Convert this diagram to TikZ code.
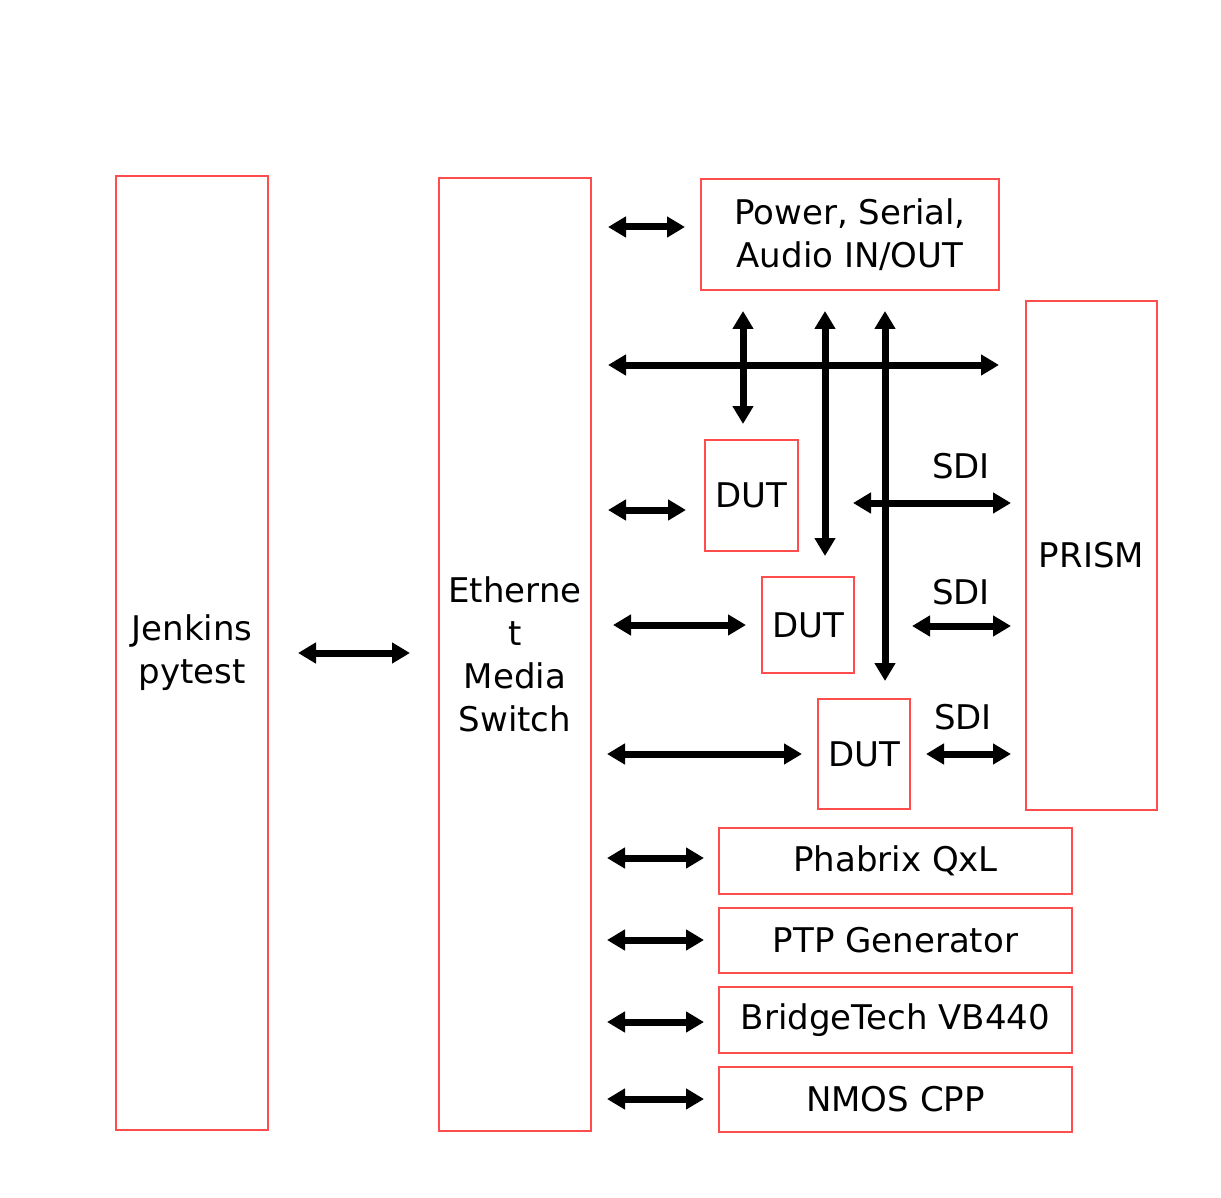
\documentclass[tikz,border=0pt]{standalone}
\usepackage{fontspec}
\setmainfont{DejaVu Sans}
\usetikzlibrary{arrows.meta}
\begin{document}
\begin{tikzpicture}[x=1pt,y=-1pt,
 box/.style={draw=red!70!white,line width=2pt,inner sep=0pt,align=center,font=\fontsize{34}{43}\selectfont},
 lab/.style={font=\fontsize{34}{43}\selectfont},
 arr/.style={line width=7pt,{Triangle[length=18pt,width=20pt]}-{Triangle[length=18pt,width=20pt]}}]
\useasboundingbox (0,0) rectangle (1221,1198);
\newcommand{\bx}[6]{\node[box,minimum width=#4-#2,minimum height=#5-#3] (#1) at ({(#2+#4)/2},{(#3+#5)/2}) {#6};}
\bx{jen}{116}{176}{268}{1130}{Jenkins\\pytest}
\bx{eth}{439}{178}{591}{1131}{Etherne\\t\\Media\\Switch}
\bx{pow}{701}{179}{999}{290}{Power, Serial,\\Audio IN/OUT}
\bx{prism}{1026}{301}{1157}{810}{PRISM}
\bx{dut1}{705}{440}{798}{551}{DUT}
\bx{dut2}{762}{577}{854}{673}{DUT}
\bx{dut3}{818}{699}{910}{809}{DUT}
\bx{pha}{719}{828}{1072}{894}{Phabrix QxL}
\bx{ptp}{719}{908}{1072}{973}{PTP Generator}
\bx{bri}{719}{987}{1072}{1053}{BridgeTech VB440}
\bx{nmos}{719}{1067}{1072}{1132}{NMOS CPP}
\draw[arr] (298,653) -- (410,653);
\draw[arr] (608,227) -- (685,227);
\draw[arr] (608,365) -- (999,365);
\draw[arr] (743,311) -- (743,424);
\draw[arr] (825,311) -- (825,556);
\draw[arr] (885,311) -- (885,681);
\draw[arr] (608,510) -- (686,510);
\draw[arr] (853,503) -- (1011,503);
\draw[arr] (613,625) -- (746,625);
\draw[arr] (912,626) -- (1011,626);
\draw[arr] (607,754) -- (802,754);
\draw[arr] (926,754) -- (1011,754);
\foreach \y in {858,940,1022,1099} \draw[arr] (607,\y) -- (704,\y);
\node[lab] (s1) at (961,466) {SDI};
\node[lab] (s2) at (961,592) {SDI};
\node[lab] (s3) at (963,717) {SDI};
\end{tikzpicture}
\end{document}
